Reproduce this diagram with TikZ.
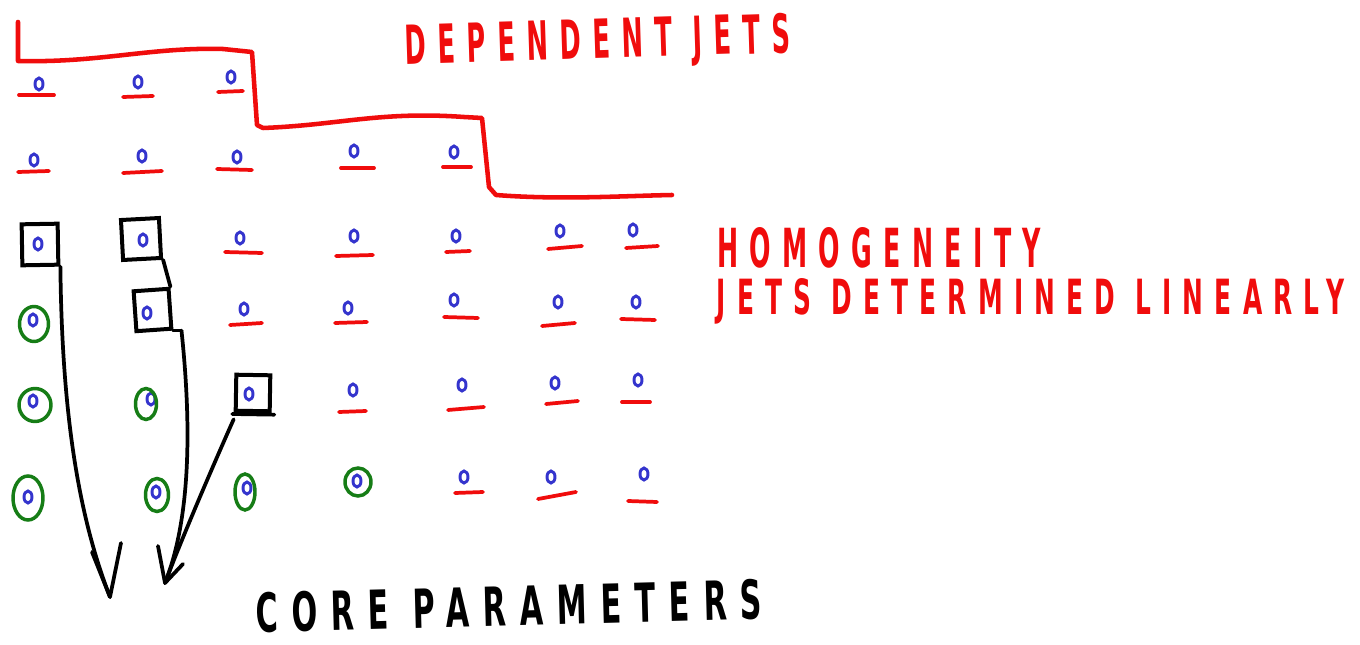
\documentclass[tikz,border=0pt]{standalone}
\usepackage{fontspec}
\usepackage{graphicx}
\usetikzlibrary{shapes.geometric}
\newfontfamily\handfont[LetterSpace=45]{DejaVu Sans}
% squeeze a hand-lettered label into a given width and cap height
\newcommand\handtext[3]{\resizebox{#1}{#2}{\handfont\bfseries #3}}
\definecolor{penred}{RGB}{240,12,12}
\definecolor{penblue}{RGB}{52,52,205}
\definecolor{pengreen}{RGB}{22,125,22}
\begin{document}
\begin{tikzpicture}[x=0.75pt,y=-0.75pt,
  jet/.style={ellipse,draw=penblue,line width=2.2pt,inner sep=0pt,
    minimum width=6pt,minimum height=9pt},
  ul/.style={penred,line width=2.8pt,line cap=round},
  ring/.style={ellipse,draw=pengreen,line width=2.6pt,inner sep=0pt},
  box/.style={rectangle,draw=black,line width=3pt,inner sep=0pt},
  blk/.style={black,line width=2.8pt,line cap=round,line join=round},
  stepline/.style={penred,line width=3.4pt,line cap=round,line join=round},
  lbl/.style={inner sep=0pt}]
\fill[white] (0,0) rectangle (1360,645);
\useasboundingbox (0,0) rectangle (1360,645);

% staircase separating the dependent jets
\draw[stepline] (18,22) -- (18,61) .. controls (100,63) and (150,47) .. (223,49)
  -- (252,52) -- (257,125) -- (263,128) .. controls (340,125) and (380,111) .. (464,117)
  -- (482,118) -- (489,187) -- (496,195) .. controls (560,200) and (620,196) .. (672,195);

% jets with their red underlines
\foreach \n/\x/\y/\ua/\ub/\uya/\uyb in {
  a1/39/84/19/54/95/95, a2/138/82/123/153/97/96, a3/231/77/218/243/92/91,
  b1/34/160/18/49/172/171, b2/142/156/123/162/173/171, b3/237/157/217/252/169/170,
  b4/354/151/341/374/168/168, b5/454/152/443/471/167/167,
  c3/240/238/225/262/252/253, c4/354/236/336/373/256/255, c5/456/236/446/470/252/251,
  c6/560/231/548/582/249/246, c7/633/230/626/658/248/246,
  d3/244/309/230/262/325/323, d4/348/308/335/367/323/322, d5/454/300/444/478/317/318,
  d6/558/302/542/575/326/323, d7/636/302/621/655/319/320,
  e4/353/390/339/366/412/411, e5/462/385/448/484/410/407,
  e6/555/383/546/578/404/401, e7/638/380/622/650/402/402,
  f5/464/477/455/483/493/492, f6/551/477/538/576/499/492, f7/644/474/628/657/501/502}{
  \node[jet] (\n) at (\x,\y) {};
  \draw[ul] (\ua,\uya) -- (\ub,\uyb);
}

% jets chosen as core parameters (boxed)
\node[jet] (c1) at (38,244) {};
\node[jet] (c2) at (143,240) {};
\node[jet] (d2) at (147,313) {};
\node[jet] (e3) at (249,394) {};
\node[box,minimum width=27pt,minimum height=30.75pt,rotate=1] (bx1) at (40,244.5) {};
\node[box,minimum width=28.5pt,minimum height=30pt,rotate=3] (bx2) at (141,239) {};
\node[box,minimum width=26.25pt,minimum height=30pt,rotate=4] (bx4) at (152.5,310) {};
\node[box,minimum width=25.5pt,minimum height=27pt,rotate=-1] (bx5) at (253,393) {};
\draw[blk] ([xshift=-1pt,yshift=-1pt]bx5.south west) -- ([xshift=2pt,yshift=-1pt]bx5.south east);
\draw[blk] (bx4.south east) -- ([xshift=6pt]bx4.south east);

% jets fixed by homogeneity (circled)
\node[jet] (d1) at (33,320) {};
\node[jet] (e1) at (33,401) {};
\node[jet] (e2) at (151,399) {};
\node[jet] (f1) at (28,497) {};
\node[jet] (f2) at (156,492) {};
\node[jet] (f3) at (247,488) {};
\node[jet] (f4) at (357,481) {};
\node[ring,minimum width=21.75pt,minimum height=26.25pt] (gd1) at (34,324) {};
\node[ring,minimum width=24pt,minimum height=24.75pt] (ge1) at (35,405) {};
\node[ring,minimum width=15.75pt,minimum height=23.25pt] (ge2) at (146,404) {};
\node[ring,minimum width=22.5pt,minimum height=33pt] (gf1) at (28,498) {};
\node[ring,minimum width=17.25pt,minimum height=24.75pt] (gf2) at (157,495) {};
\node[ring,minimum width=15pt,minimum height=27pt] (gf3) at (245,492) {};
\node[ring,minimum width=19.5pt,minimum height=21pt] (gf4) at (358,482) {};

% arrows down to the core parameters
\coordinate (t1) at (110,597);
\coordinate (t2) at (165,583);
\coordinate (t1l) at (92,552);
\coordinate (t1r) at (121,543);
\coordinate (t2l) at (158,546);
\coordinate (t2r) at (183,564);
\draw[blk] (bx2.south east) -- (bx4.north east);
\draw[blk] (bx1.south east) .. controls (62,420) and (80,520) .. (t1);
\draw[blk] ([xshift=6pt]bx4.south east) .. controls (192,430) and (190,520) .. (t2);
\draw[blk] ([yshift=-5pt]bx5.south west) .. controls (220,450) and (185,530) .. (t2);
\draw[blk] (t1l) -- (t1) -- (t1r);
\draw[blk] (t2l) -- (t2) -- (t2r);

% labels
\node[lbl,penred,rotate=1.8] (dep) at (598,44) {\handtext{289pt}{30pt}{DEPENDENT JETS}};
\node[lbl,penred] (hom) at (879,248) {\handtext{243pt}{30pt}{HOMOGENEITY}};
\node[lbl,penred] (lin) at (1031,301) {\handtext{471pt}{27pt}{JETS DETERMINED LINEARLY}};
\node[lbl,black,rotate=1.5] (core) at (509,606) {\handtext{380pt}{30pt}{CORE PARAMETERS}};
\end{tikzpicture}
\end{document}
